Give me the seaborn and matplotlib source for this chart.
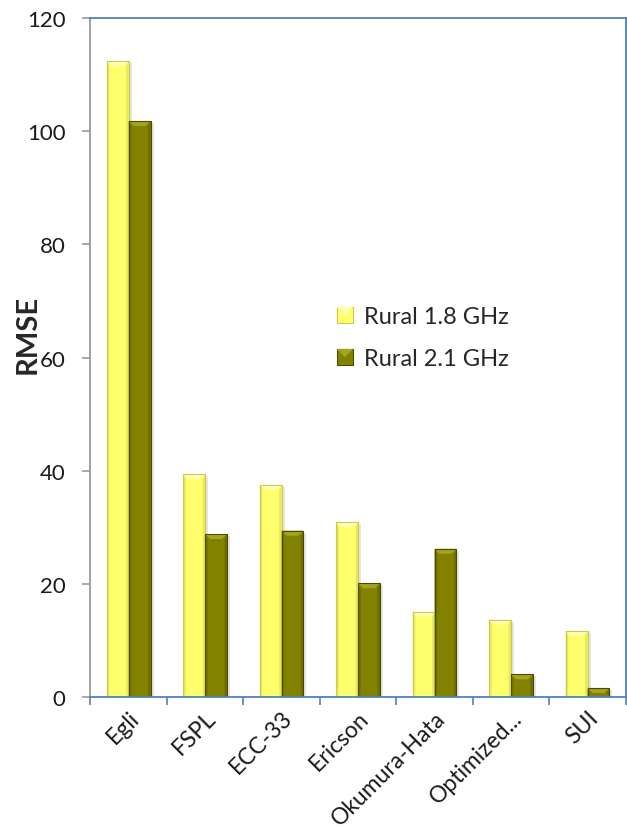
import matplotlib
matplotlib.use("Agg")
import matplotlib.pyplot as plt
from matplotlib.patches import Polygon, Rectangle, Patch
from matplotlib.legend_handler import HandlerPatch
import seaborn as sns
import pandas as pd
import numpy as np

# RMSE of each propagation model for the two rural frequency bands
models = ["Egli", "FSPL", "ECC-33", "Ericson", "Okumura-Hata", "Optimized...", "SUI"]
rural_18 = [112.4, 39.4, 37.5, 30.9, 15.1, 13.7, 11.7]
rural_21 = [101.8, 28.8, 29.4, 20.1, 26.2, 4.0, 1.6]
series = ["Rural 1.8 GHz", "Rural 2.1 GHz"]

df = pd.DataFrame({
    "model": models * 2,
    "rmse": rural_18 + rural_21,
    "band": [series[0]] * len(models) + [series[1]] * len(models),
})

face = {series[0]: "#FFFF6B", series[1]: "#828200"}
top_face = {series[0]: "#FFFFB4", series[1]: "#A4A420"}
side_face = {series[0]: "#E8E85E", series[1]: "#6E6E00"}
edge = {series[0]: "#C9C94E", series[1]: "#4A4A00"}

sns.set_theme(style="white")
plt.rcParams["font.family"] = ["Lato", "DejaVu Sans"]

fig = plt.figure(figsize=(6.27, 8.29), dpi=100)
ax = fig.add_axes([0.1443, 0.158, 0.8537, 0.819])

sns.barplot(data=df, x="model", y="rmse", hue="band", order=models,
            hue_order=series, palette=face, width=0.57, saturation=1,
            edgecolor="none", linewidth=0, legend=False, ax=ax)

ax.set_xlim(-0.5, len(models) - 0.5)
ax.set_ylim(0, 120)

# bevelled look for every bar: side strips, a lighter top facet and a soft shadow
inv = ax.transData.inverted()
ox, oy = inv.transform((0, 0))
px_x = inv.transform((1, 0))[0] - ox
px_y = inv.transform((0, 1))[1] - oy

bars = list(ax.patches)
n = len(models)
for i, bar in enumerate(bars):
    band = series[i // n]
    x0 = bar.get_x()
    w = bar.get_width()
    h = bar.get_height()
    bx = 5 * px_x
    by = 5 * px_y
    z = bar.get_zorder()
    ax.add_patch(Rectangle((x0 + 3 * px_x, 0), w, max(h - 2 * px_y, 0),
                           facecolor="#000000", alpha=0.10, edgecolor="none",
                           zorder=z - 0.5))
    ax.add_patch(Polygon([(x0, 0), (x0 + bx * 0.5, by * 0.5),
                          (x0 + bx * 0.5, h - by), (x0, h)],
                         closed=True, facecolor=side_face[band], edgecolor="none",
                         zorder=z + 0.1))
    ax.add_patch(Polygon([(x0 + w, 0), (x0 + w - bx * 0.5, by * 0.5),
                          (x0 + w - bx * 0.5, h - by), (x0 + w, h)],
                         closed=True, facecolor=side_face[band], edgecolor="none",
                         zorder=z + 0.1))
    depth = min(by, h * 0.6)
    ax.add_patch(Polygon([(x0, h), (x0 + w, h), (x0 + w - bx, h - depth),
                          (x0 + bx, h - depth)],
                         closed=True, facecolor=top_face[band], edgecolor="none",
                         zorder=z + 0.2))
    ax.add_patch(Rectangle((x0, 0), w, h, facecolor="none", edgecolor=edge[band],
                           linewidth=0.8, zorder=z + 0.3))

# frame: grey value axis, blue category axis and blue outer border
grey = "#9A9A9A"
blue = "#4F81BD"
for side in ["top", "right", "bottom"]:
    ax.spines[side].set_color(blue)
    ax.spines[side].set_linewidth(1.3)
ax.spines["left"].set_color(grey)
ax.spines["left"].set_linewidth(1.3)

ax.set_yticks(np.arange(0, 121, 20))
ax.tick_params(axis="y", which="major", left=True, length=6, width=1.2,
               color=grey, pad=12, labelsize=16, labelcolor="#1A1A1A")

ax.set_xticks(range(len(models)))
ax.set_xticklabels(models, rotation=45, ha="right", rotation_mode="anchor")
ax.set_xticks(np.arange(-0.5, len(models), 1.0), minor=True)
ax.tick_params(axis="x", which="major", bottom=False, length=0, pad=7,
               labelsize=16.5, labelcolor="#1A1A1A")
ax.tick_params(axis="x", which="minor", bottom=True, length=6, width=1.2,
               color=blue)

ax.set_xlabel("")
ax.set_ylabel("RMSE", fontsize=21, fontweight="bold")
ax.yaxis.set_label_coords(-0.093, 0.535)

# legend with bevelled square keys
class BevelSquare(HandlerPatch):
    def create_artists(self, legend, orig_handle, xdescent, ydescent, width,
                       height, fontsize, trans):
        s = min(width, height)
        x = -xdescent + (width - s) / 2
        y = -ydescent + (height - s) / 2
        fc = orig_handle.get_facecolor()
        band = orig_handle.get_label()
        base = Rectangle((x, y), s, s, facecolor=fc, edgecolor=edge[band],
                         linewidth=0.8, transform=trans)
        tri = Polygon([(x, y + s), (x + s, y + s), (x + s / 2, y + s / 2)],
                      closed=True, facecolor=top_face[band], edgecolor="none",
                      transform=trans)
        return [base, tri]

handles = [Patch(facecolor=face[s], label=s) for s in series]
ax.legend(handles=handles, labels=series, loc="upper left",
          bbox_to_anchor=(0.42, 0.607), frameon=False, fontsize=17,
          handlelength=0.7, handleheight=0.7, handletextpad=0.45,
          labelspacing=0.9,
          handler_map={Patch: BevelSquare()})

fig.savefig("out.png", dpi=100, facecolor="white")
